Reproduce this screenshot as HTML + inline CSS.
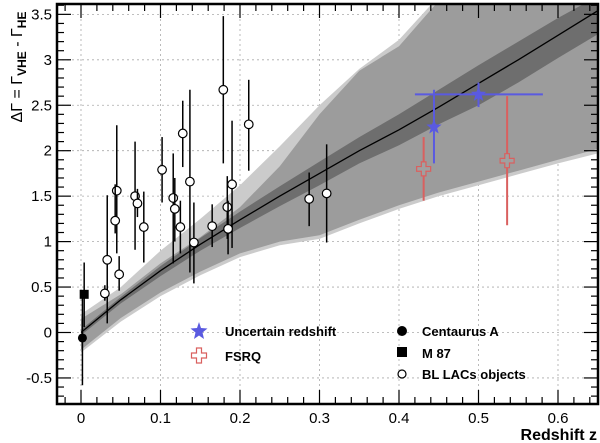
<!DOCTYPE html>
<html><head><meta charset="utf-8"><style>
html,body{margin:0;padding:0;background:#fff;width:600px;height:443px;overflow:hidden}
text{font-family:"Liberation Sans",sans-serif}
</style></head><body>
<svg id="chart" width="600" height="443" viewBox="0 0 600 443" xmlns="http://www.w3.org/2000/svg" style="position:absolute;left:0;top:0"></svg>
<script>
// ---- data ----
const bandZ = [0, 0.05, 0.1, 0.15, 0.2, 0.25, 0.3, 0.35, 0.4, 0.45, 0.5, 0.55, 0.6, 0.65];
const fitLine = [0, 0.36, 0.68, 0.97, 1.24, 1.5, 1.75, 2.0, 2.23, 2.48, 2.74, 3.0, 3.27, 3.54];
const lightUpper = [0.2, 0.5, 0.9, 1.25, 1.62, 2.05, 2.5, 2.9, 3.22, 3.7, 3.9, 3.9, 3.9, 3.9];
const lightLower = [-0.22, 0.12, 0.4, 0.63, 0.83, 0.96, 1.03, 1.2, 1.36, 1.5, 1.62, 1.74, 1.86, 1.97];
const midUpper = [0.15, 0.42, 0.76, 1.05, 1.38, 1.83, 2.4, 2.88, 3.15, 3.65, 3.9, 3.9, 3.9, 3.9];
const midLower = [-0.19, 0.16, 0.44, 0.67, 0.87, 1.0, 1.07, 1.24, 1.4, 1.54, 1.66, 1.78, 1.9, 2.02];
const darkUpper = [0.03, 0.39, 0.73, 1.04, 1.33, 1.61, 1.88, 2.15, 2.4, 2.67, 2.94, 3.2, 3.46, 3.7];
const darkLower = [-0.03, 0.32, 0.62, 0.9, 1.15, 1.39, 1.62, 1.86, 2.06, 2.29, 2.5, 2.75, 3.02, 3.28];

const blZ   = [0.179,0.211,0.128,0.102,0.137,0.19,0.045,0.068,0.071,0.116,0.118,0.043,0.079,0.125,0.165,0.184,0.185,0.142,0.287,0.309,0.033,0.048,0.030];
const blV   = [2.67,2.29,2.19,1.79,1.66,1.63,1.56,1.50,1.42,1.48,1.36,1.23,1.16,1.16,1.17,1.38,1.14,0.99,1.47,1.53,0.80,0.64,0.43];
const blHi  = [3.48,2.78,2.55,2.15,2.67,2.33,2.28,2.10,1.58,1.97,1.70,1.63,1.55,1.45,1.41,1.72,1.45,1.43,1.76,2.07,1.51,0.84,0.52];
const blLo  = [1.86,1.78,1.82,1.43,0.66,0.93,0.87,0.91,1.27,0.76,1.0,1.09,0.77,0.87,0.94,1.03,0.86,0.54,1.17,0.99,0.10,0.46,0.35];

const m87 = {z:0.004, v:0.42, hi:0.77, lo:0.06};
const cenA = {z:0.0018, v:-0.06, hi:0.42, lo:-0.58};

const starZ = [0.444, 0.5];
const starV = [2.26, 2.62];
const starHi = [2.67, 2.75];
const starLo = [1.86, 2.48];
const starZlo = [0.444, 0.42];
const starZhi = [0.444, 0.581];

const fsrqZ = [0.431, 0.536];
const fsrqV = [1.80, 1.89];
const fsrqHi = [2.15, 2.6];
const fsrqLo = [1.45, 1.18];

const xTicks = [0, 0.1, 0.2, 0.3, 0.4, 0.5, 0.6];
const xTickLabels = ["0","0.1","0.2","0.3","0.4","0.5","0.6"];
const yTicks = [-0.5, 0, 0.5, 1, 1.5, 2, 2.5, 3, 3.5];
const yTickLabels = ["-0.5","0","0.5","1","1.5","2","2.5","3","3.5"];

// ---- axes ----
const L=57, R=598, T=4, B=404;
const X = z => 81 + z*795;
const Y = v => 332.5 - v*90.9;
const svg = document.getElementById('chart');
const NS='http://www.w3.org/2000/svg';
function mk(tag, attrs, parent){const e=document.createElementNS(NS,tag);for(const k in attrs)e.setAttribute(k,attrs[k]);(parent||svg).appendChild(e);return e;}

const defs = mk('defs',{});
const cp = mk('clipPath',{id:'plotclip'},defs);
mk('rect',{x:L,y:T,width:R-L,height:B-T},cp);
const plot = mk('g',{'clip-path':'url(#plotclip)'});



// grid
const grid = mk('g',{},plot);


xTicks.forEach(t=>mk('line',{x1:X(t),x2:X(t),y1:T,y2:B,stroke:'#aaa','stroke-width':0.8,'stroke-dasharray':'2,3'},grid));
yTicks.forEach(t=>mk('line',{x1:L,x2:R,y1:Y(t),y2:Y(t),stroke:'#aaa','stroke-width':0.8,'stroke-dasharray':'2,3'},grid));

function band(up, lo, fill, name){
  const pts=[];
  bandZ.forEach((z,i)=>pts.push(X(z).toFixed(1)+','+Y(up[i]).toFixed(1)));
  for(let i=bandZ.length-1;i>=0;i--) pts.push(X(bandZ[i]).toFixed(1)+','+Y(lo[i]).toFixed(1));
  const p=mk('polygon',{points:pts.join(' '),fill:fill},plot);
  
  
}
band(lightUpper, lightLower, '#cbcbcb', 'outer-confidence-band');
band(midUpper, midLower, '#9c9c9c', 'mid-confidence-band');
band(darkUpper, darkLower, '#6e6e6e', 'inner-confidence-band');
const lp=bandZ.map((z,i)=>X(z).toFixed(1)+','+Y(fitLine[i]).toFixed(1)).join(' ');
const fl=mk('polyline',{points:lp,fill:'none',stroke:'#000','stroke-width':1.3},plot);



// BL Lacs
blZ.forEach((z,i)=>{
  const g=mk('g',{},plot);
  
  
  mk('line',{x1:X(z),x2:X(z),y1:Y(blHi[i]),y2:Y(blLo[i]),stroke:'#000','stroke-width':1.5},g);
  mk('circle',{cx:X(z),cy:Y(blV[i]),r:4.3,fill:'#fff',stroke:'#000','stroke-width':1.2},g);
});
(function(){
  const g=mk('g',{},plot);
  
  
  mk('line',{x1:X(cenA.z),x2:X(cenA.z),y1:Y(cenA.hi),y2:Y(cenA.lo),stroke:'#000','stroke-width':1.5},g);
  mk('circle',{cx:X(cenA.z),cy:Y(cenA.v),r:4.5,fill:'#000'},g);
})();
(function(){
  const g=mk('g',{},plot);
  
  
  mk('line',{x1:X(m87.z),x2:X(m87.z),y1:Y(m87.hi),y2:Y(m87.lo),stroke:'#000','stroke-width':1.5},g);
  mk('rect',{x:X(m87.z)-4.5,y:Y(m87.v)-4.5,width:9,height:9,fill:'#000'},g);
})();
function starPath(cx,cy,r){let d='';for(let k=0;k<10;k++){const a=-Math.PI/2+k*Math.PI/5;const rr=k%2?r*0.42:r;d+=(k?'L':'M')+(cx+rr*Math.cos(a))+','+(cy+rr*Math.sin(a));}return d+'Z';}
function crossPath(cx,cy,s){const a=s/3;return `M${cx-a},${cy-s}h${2*a}v${2*a}h${2*a}v${2*a}h${-2*a}v${2*a}h${-2*a}v${-2*a}h${-2*a}v${-2*a}h${2*a}Z`;}
fsrqZ.forEach((z,i)=>{
  const g=mk('g',{},plot);
  
  
  mk('line',{x1:X(z),x2:X(z),y1:Y(fsrqHi[i]),y2:Y(fsrqLo[i]),stroke:'#d9605f','stroke-width':2},g);
  mk('path',{d:crossPath(X(z),Y(fsrqV[i]),7),fill:'#a0a0a0',stroke:'#d9605f','stroke-width':1.2},g);
});
starZ.forEach((z,i)=>{
  const g=mk('g',{},plot);
  
  
  mk('line',{x1:X(z),x2:X(z),y1:Y(starHi[i]),y2:Y(starLo[i]),stroke:'#5a5ae0','stroke-width':2},g);
  if(starZlo[i]!==starZhi[i]) mk('line',{x1:X(starZlo[i]),x2:X(starZhi[i]),y1:Y(starV[i]),y2:Y(starV[i]),stroke:'#5a5ae0','stroke-width':2},g);
  mk('path',{d:starPath(X(z),Y(starV[i]),8),fill:'#5a5ae0'},g);
});

// frame & ticks
const ax=mk('g',{});


mk('rect',{x:L,y:T,width:R-L,height:B-T,fill:'none',stroke:'#000','stroke-width':2.5},ax);
for(let k=-7;k<=36;k++){const vv=k/10;const major=(k%5===0);const len=major?14:7;
  mk('line',{x1:L,x2:L+len,y1:Y(vv),y2:Y(vv),stroke:'#000','stroke-width':1.2},ax);
  mk('line',{x1:R,x2:R-len,y1:Y(vv),y2:Y(vv),stroke:'#000','stroke-width':1.2},ax);}
for(let k=-1;k<=32;k++){const zz=k*0.02;const major=(k%5===0);const len=major?14:7;
  mk('line',{x1:X(zz),x2:X(zz),y1:B,y2:B-len,stroke:'#000','stroke-width':1.2},ax);
  mk('line',{x1:X(zz),x2:X(zz),y1:T,y2:T+len,stroke:'#000','stroke-width':1.2},ax);}
xTicks.forEach((t,i)=>{const e=mk('text',{x:X(t),y:423,'text-anchor':'middle','font-size':15,fill:'#000'},ax);e.textContent=xTickLabels[i];
  
  });
yTicks.forEach((t,i)=>{const e=mk('text',{x:52,y:Y(t)+5,'text-anchor':'end','font-size':15,fill:'#000'},ax);e.textContent=yTickLabels[i];
  
  });
</script>
<svg style="position:absolute;left:0;top:0" width="600" height="443" xmlns="http://www.w3.org/2000/svg">
  <text x="597" y="440" text-anchor="end" font-size="16" font-weight="bold" font-family="Liberation Sans, sans-serif">Redshift z</text>
  <text transform="translate(22,67) rotate(-90)" text-anchor="middle" font-size="16" font-family="Liberation Sans, DejaVu Sans, sans-serif">ΔΓ = Γ<tspan font-size="12" font-weight="bold" dy="4">VHE</tspan><tspan dy="-4"> - Γ</tspan><tspan font-size="12" font-weight="bold" dy="4">HE</tspan></text>
  <g font-family="Liberation Sans, sans-serif" font-size="13" font-weight="bold">
    <path d="M199,322L201,328L207.5,328.5L202.5,332.5L204,339L199,335.5L194,339L195.5,332.5L190.5,328.5L197,328Z" fill="#5a5ae0"/>
    <text x="225" y="336">Uncertain redshift</text>
    <path d="M196.5,348h5v5h5v5h-5v5h-5v-5h-5v-5h5Z" fill="#fff" stroke="#d9605f" stroke-width="1.2"/>
    <text x="225" y="361">FSRQ</text>
    <circle cx="402" cy="331" r="5" fill="#000"/>
    <text x="422" y="336">Centaurus A</text>
    <rect x="397" y="347" width="10" height="10" fill="#000"/>
    <text x="422" y="358">M 87</text>
    <circle cx="402" cy="374" r="4" fill="#fff" stroke="#000" stroke-width="1.2"/>
    <text x="422" y="379">BL LACs objects</text>
  </g>
</svg>
</body></html>
